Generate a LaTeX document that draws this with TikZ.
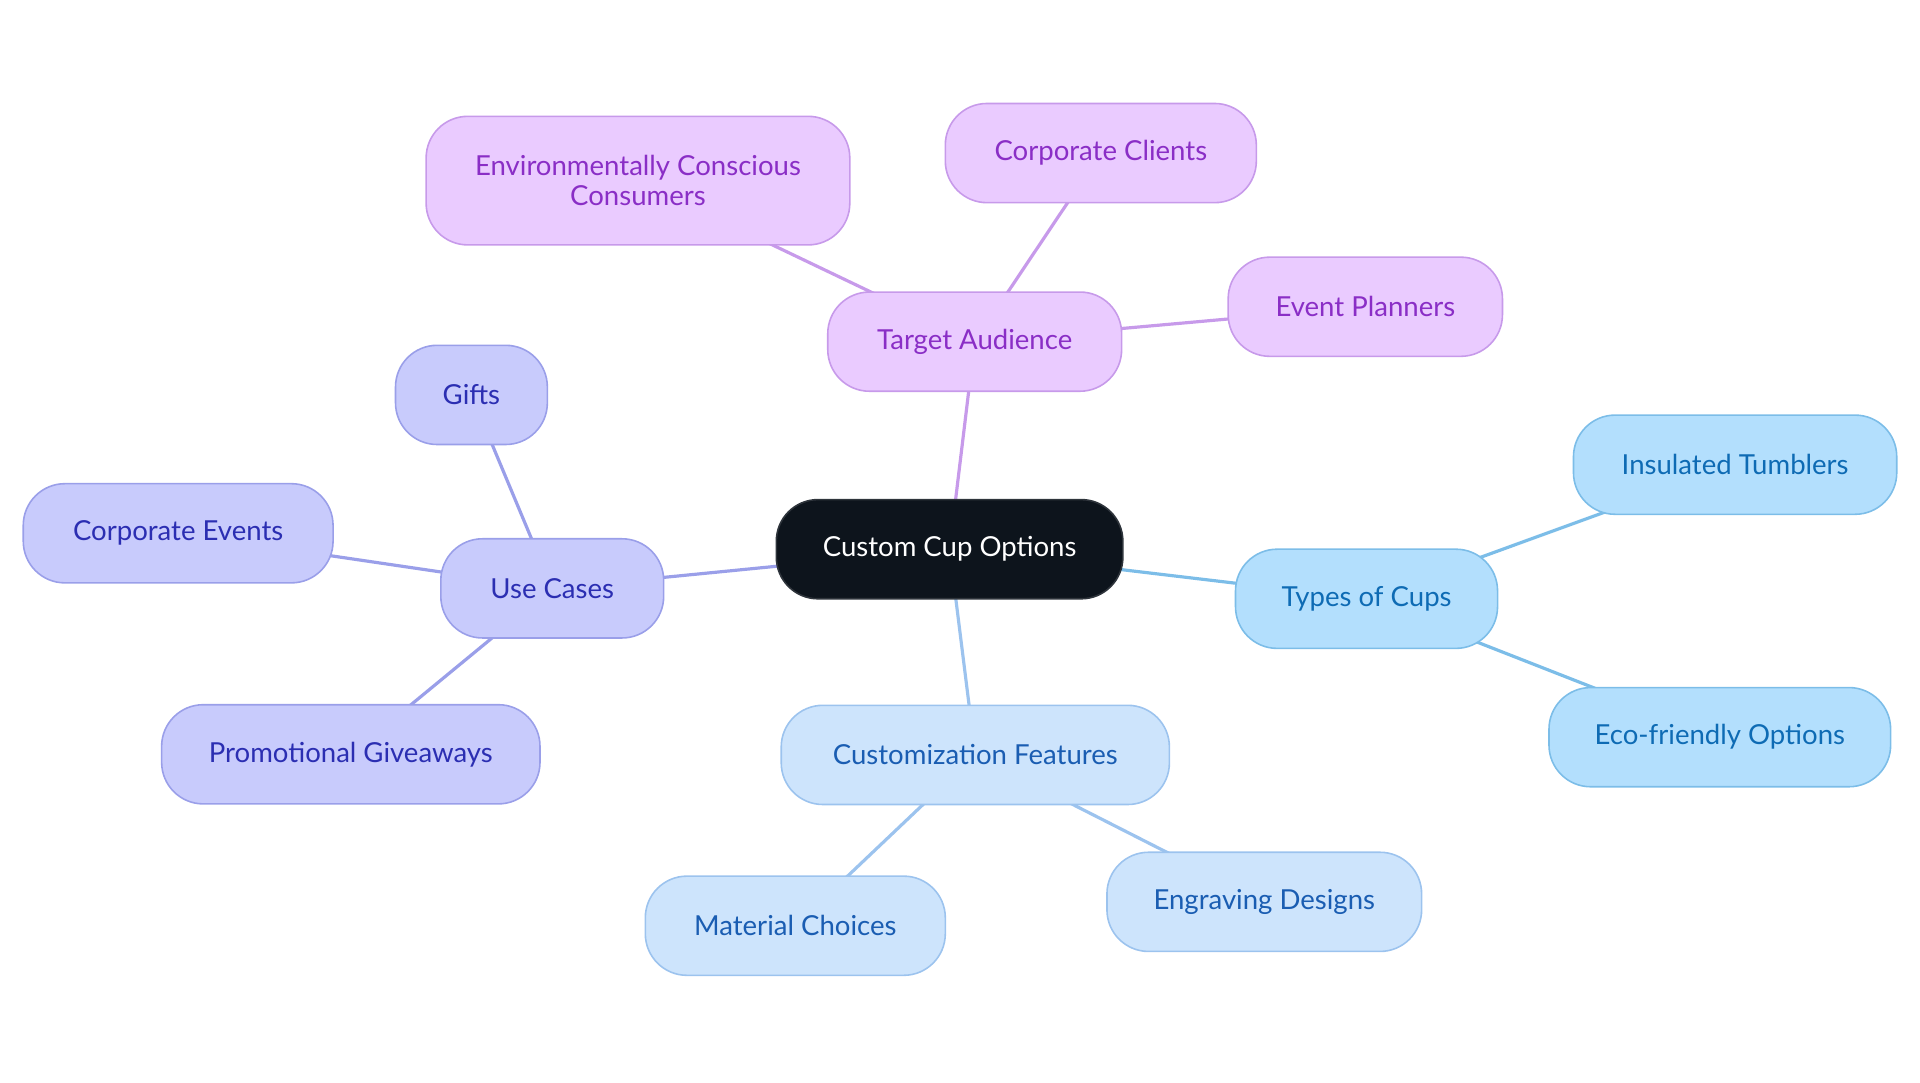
\documentclass[tikz,border=0pt]{standalone}
\usepackage{fontspec}
\setmainfont{Lato}
\usetikzlibrary{backgrounds}
\definecolor{cdark}{HTML}{0D141C}
\definecolor{cdarkb}{HTML}{2E343B}
\definecolor{pfill}{HTML}{EACBFF}
\definecolor{pdraw}{HTML}{C79AEA}
\definecolor{ptext}{HTML}{8A2EC6}
\definecolor{ufill}{HTML}{C8CBFC}
\definecolor{udraw}{HTML}{9A9FE9}
\definecolor{utext}{HTML}{2B2EB2}
\definecolor{tfill}{HTML}{B3DFFD}
\definecolor{tdraw}{HTML}{7CBDE8}
\definecolor{ttext}{HTML}{0E6BB4}
\definecolor{cfill}{HTML}{CDE4FC}
\definecolor{cdraw}{HTML}{9CC3EE}
\definecolor{ctext}{HTML}{1A5DB2}
\tikzset{
  x=1pt, y=-1pt,
  box/.style={rounded corners=34pt, line width=1.3pt, minimum height=81pt, inner sep=0pt, align=center, font=\fontsize{22.5}{25}\selectfont},
  rootbox/.style={box, fill=cdark, draw=cdarkb, text=white},
  pbox/.style={box, fill=pfill, draw=pdraw, text=ptext},
  ubox/.style={box, fill=ufill, draw=udraw, text=utext},
  tbox/.style={box, fill=tfill, draw=tdraw, text=ttext},
  cbox/.style={box, fill=cfill, draw=cdraw, text=ctext},
  pline/.style={line width=2.6pt, draw=pdraw},
  uline/.style={line width=2.6pt, draw=udraw},
  tline/.style={line width=2.6pt, draw=tdraw},
  cline/.style={line width=2.6pt, draw=cdraw},
}
\begin{document}
\begin{tikzpicture}
\useasboundingbox (0,0) rectangle (1568,884);
\node[rootbox, minimum width=283pt] (root) at (775.5,448.5) {Custom Cup Options};
\node[pbox, minimum width=240pt] (ta) at (796,279) {Target Audience};
\node[pbox, minimum width=346pt, minimum height=105pt] (ecc) at (521,147.5) {Environmentally Conscious\\Consumers};
\node[pbox, minimum width=254pt] (cc) at (899,125) {Corporate Clients};
\node[pbox, minimum width=224pt] (ep) at (1115,250.5) {Event Planners};
\node[ubox, minimum width=182pt] (uc) at (451,480.5) {Use Cases};
\node[ubox, minimum width=124pt] (gi) at (385,322.5) {Gifts};
\node[ubox, minimum width=253pt] (ce) at (145.5,435.5) {Corporate Events};
\node[ubox, minimum width=309pt] (pg) at (286.5,616) {Promotional Giveaways};
\node[tbox, minimum width=214pt] (tc) at (1116,489) {Types of Cups};
\node[tbox, minimum width=264pt] (it) at (1417,379.5) {Insulated Tumblers};
\node[tbox, minimum width=279pt] (eo) at (1404.5,602) {Eco-friendly Options};
\node[cbox, minimum width=317pt] (cf) at (796.5,616.5) {Customization Features};
\node[cbox, minimum width=245pt] (mc) at (649.5,756) {Material Choices};
\node[cbox, minimum width=257pt] (ed) at (1032.5,736.5) {Engraving Designs};
\begin{scope}[on background layer]
\draw[pline] (root.center) -- (ta.center);
\draw[pline] (ta.center) -- (ecc.center);
\draw[pline] (ta.center) -- (cc.center);
\draw[pline] (ta.center) -- (ep.center);
\draw[uline] (root.center) -- (uc.center);
\draw[uline] (uc.center) -- (gi.center);
\draw[uline] (uc.center) -- (ce.center);
\draw[uline] (uc.center) -- (pg.center);
\draw[tline] (root.center) -- (tc.center);
\draw[tline] (tc.center) -- (it.center);
\draw[tline] (tc.center) -- (eo.center);
\draw[cline] (root.center) -- (cf.center);
\draw[cline] (cf.center) -- (mc.center);
\draw[cline] (cf.center) -- (ed.center);
\end{scope}
\end{tikzpicture}
\end{document}
